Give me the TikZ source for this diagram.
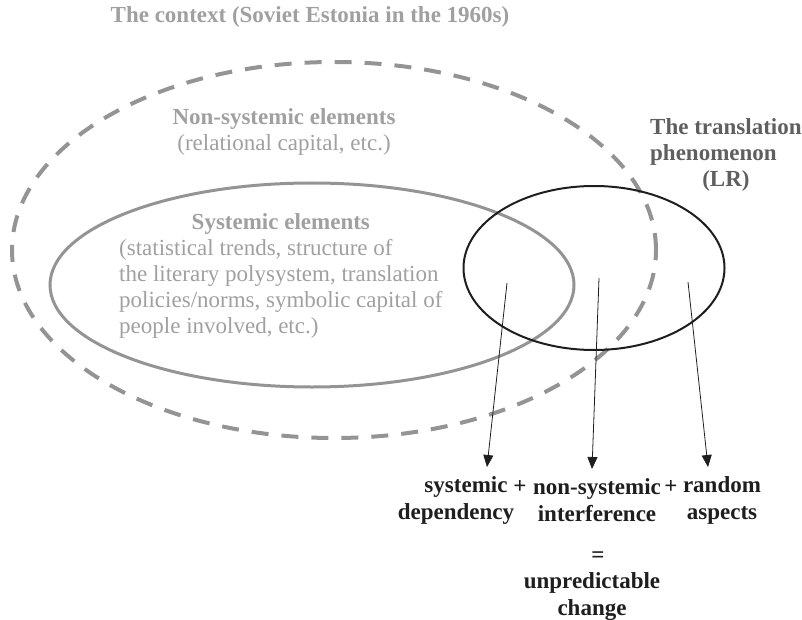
\documentclass[tikz,border=0pt]{standalone}
\usepackage{fontspec}
\setmainfont{Liberation Serif}
\usetikzlibrary{shapes.geometric,arrows.meta}
\definecolor{lightgraytext}{RGB}{160,160,160}
\definecolor{linegray}{RGB}{148,148,148}
\definecolor{darkgraytext}{RGB}{95,95,95}
\definecolor{inkblack}{RGB}{30,30,30}
\tikzset{
  ctxtext/.style={text=lightgraytext, font=\fontsize{23}{26}\selectfont, inner sep=0pt},
  bottomtext/.style={text=inkblack, font=\fontsize{23}{27}\selectfont\bfseries, inner sep=0pt, align=center},
  dashedring/.style={ellipse, draw=linegray, line width=4pt, dash pattern=on 17pt off 13pt, inner sep=0pt},
  systemring/.style={ellipse, draw=linegray, line width=3pt, inner sep=0pt},
  phenring/.style={ellipse, draw=inkblack, line width=2pt, inner sep=0pt},
  arrowline/.style={draw=inkblack, line width=0.8pt, -{Triangle[length=12pt,width=10pt]}},
}
\begin{document}
\begin{tikzpicture}[x=1pt,y=-1pt]
\useasboundingbox (0,0) rectangle (802,620);
% rings
\node[dashedring, minimum width=644pt, minimum height=376pt] (context) at (334,250) {};
\node[systemring, minimum width=524pt, minimum height=204pt] (systemic) at (312,285) {};
\node[phenring, minimum width=261pt, minimum height=164pt] (phen) at (594,268) {};
% texts
\node[ctxtext, font=\fontsize{23}{26}\selectfont\bfseries] (title) at (310,17) {The context (Soviet Estonia in the 1960s)};
\node[ctxtext, align=center] (nonsys) at (284,132) {\textbf{Non-systemic elements}\\(relational capital, etc.)};
\node[ctxtext, anchor=north west] (systxt) at (119,211) {\begin{tabular}{@{}l@{}}\multicolumn{1}{@{}c@{}}{\textbf{Systemic elements}}\\(statistical trends, structure of\\the literary polysystem, translation\\policies/norms, symbolic capital of\\people involved, etc.)\end{tabular}};
\node[ctxtext, text=darkgraytext, font=\fontsize{23}{26}\selectfont\bfseries, anchor=north west] (phentxt) at (650,116) {\begin{tabular}{@{}l@{}}The translation\\phenomenon\\\multicolumn{1}{@{}c@{}}{(LR)}\end{tabular}};
% bottom texts
\node[bottomtext] (sysdep) at (456,500) {\hspace*{20pt}systemic\\dependency};
\node[bottomtext] (plusa) at (520,487) {+};
\node[bottomtext] (nonsysint) at (597,500) {non-systemic\\interference};
\node[bottomtext] (plusb) at (671,487) {+};
\node[bottomtext] (random) at (722,500) {random\\aspects};
\node[bottomtext] (equals) at (598,557) {=};
\node[bottomtext] (change) at (592,597) {unpredictable\\change};
% arrow coordinates
\coordinate (s1) at (507,283);
\coordinate (e1) at (487,467);
\coordinate (s2) at (599,278);
\coordinate (e2) at (592,469);
\coordinate (s3) at (688,282);
\coordinate (e3) at (708,467);
\draw[arrowline] (s1) -- (e1);
\draw[arrowline] (s2) -- (e2);
\draw[arrowline] (s3) -- (e3);
\end{tikzpicture}
\end{document}
